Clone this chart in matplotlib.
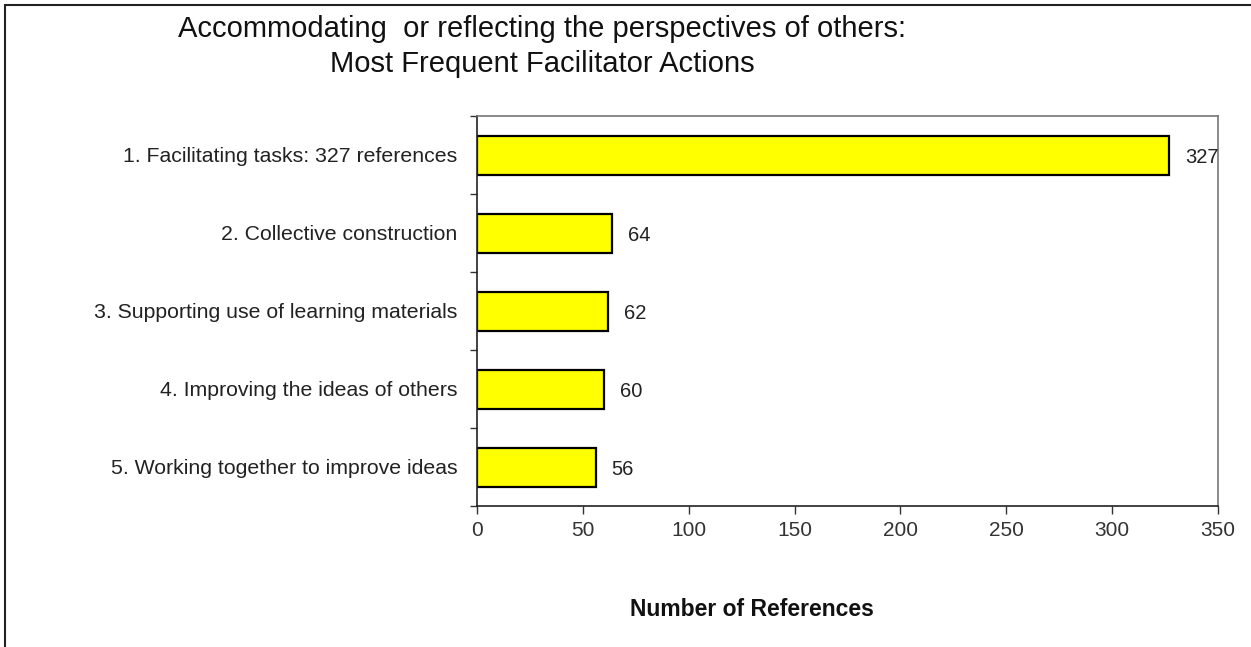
import matplotlib.pyplot as plt
from matplotlib.patches import Rectangle

# Datos:
categorias = ['1. Facilitating tasks: 327 references',
              '2. Collective construction',
              '3. Supporting use of learning materials',
              '4. Improving the ideas of others',
              '5. Working together to improve ideas']
valores = [327, 64, 62, 60, 56]
xticks = [0, 50, 100, 150, 200, 250, 300, 350]

plt.rcParams['font.family'] = ['Liberation Sans', 'DejaVu Sans']

W, H = 1251, 647
fig = plt.figure(figsize=(W/100, H/100), dpi=100)
ax = fig.add_axes([477/W, 1-506/H, (1218-477)/W, (506-116)/H])

pos = list(range(len(categorias)))
ax.barh(pos, valores, height=0.5, color='#FFFF00', edgecolor='black', linewidth=1.6)
for p, v in zip(pos, valores):
    ax.text(v + 7.5, p + 0.03, str(v), va='center', ha='left', fontsize=14.5, color='#222222')

ax.set_xlim(0, 350)
ax.set_ylim(len(categorias) - 0.5, -0.5)
ax.set_xticks(xticks)
ax.set_yticks(pos)
ax.set_yticklabels(categorias)
ax.set_yticks([p - 0.5 for p in range(len(categorias) + 1)], minor=True)
ax.tick_params(axis='y', which='major', length=0, pad=14, labelsize=15.3, labelcolor='#222222')
ax.tick_params(axis='y', which='minor', length=5, width=1, direction='out', color='#333333')
ax.tick_params(axis='x', length=6, width=1, pad=5, labelsize=15, labelcolor='#333333', color='#333333')

for s in ['left', 'bottom']:
    ax.spines[s].set_color('#222222')
    ax.spines[s].set_linewidth(1.2)
for s in ['top', 'right']:
    ax.spines[s].set_color('#777777')
    ax.spines[s].set_linewidth(1.2)

fig.text(542/W, 1-15/H, 'Accommodating  or reflecting the perspectives of others:\nMost Frequent Facilitator Actions',
         ha='center', va='top', fontsize=21, linespacing=1.3, color='#111111')
fig.text(752/W, 1-609/H, 'Number of References', ha='center', va='center',
         fontsize=16.5, fontweight='bold', color='#111111')

# Marco exterior
fig.patches.append(Rectangle((5/W, -0.1), 1.2, 1.1 - 5/H, transform=fig.transFigure,
                             fill=False, edgecolor='#222222', linewidth=1.5))

fig.savefig('out.png', dpi=100)
